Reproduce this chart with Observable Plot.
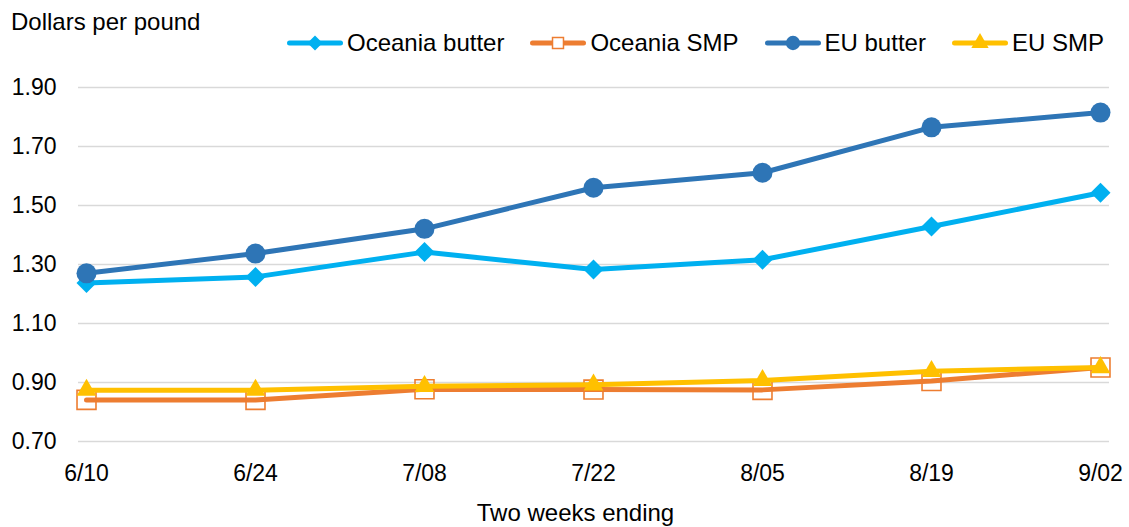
<!DOCTYPE html>
<html>
<head>
<meta charset="utf-8">
<script src="https://cdn.jsdelivr.net/npm/d3@7"></script>
<script src="https://cdn.jsdelivr.net/npm/@observablehq/plot@0.6"></script>
<style>
  html, body { margin: 0; padding: 0; background: #fff; }
  body { width: 1129px; height: 527px; overflow: hidden; font-family: "Liberation Sans", Arial, sans-serif; color: #000; }
  #header { position: relative; height: 62px; font-size: 24px; line-height: 24px; }
  #title { position: absolute; left: 11px; top: 10px; white-space: nowrap; }
  #legend { position: absolute; left: 287px; top: 31px; width: 842px; display: flex; flex-wrap: nowrap; align-items: center; white-space: nowrap; }
  .item { display: flex; flex: none; align-items: center; margin-right: 26px; white-space: nowrap; }
  .item svg { margin-right: 4px; flex: none; }
  .item span { white-space: nowrap; }
  #caption { margin-top: 9px; font-size: 24px; line-height: 24px; text-align: center; padding-left: 22px; white-space: nowrap; }
  #chart svg { display: block; }
</style>
</head>
<body>
<div id="header"><div id="title">Dollars per pound</div><div id="legend"></div></div>
<div id="chart"></div>
<div id="caption">Two weeks ending</div>
<script>
const dates = ["6/10", "6/24", "7/08", "7/22", "8/05", "8/19", "9/02"];
const oceaniaButter = [1.237, 1.258, 1.342, 1.283, 1.316, 1.429, 1.543];
const oceaniaSMP = [0.841, 0.841, 0.877, 0.876, 0.875, 0.905, 0.951];
const euButter = [1.270, 1.337, 1.421, 1.560, 1.611, 1.765, 1.815];
const euSMP = [0.874, 0.874, 0.887, 0.892, 0.907, 0.938, 0.951];
const yTicks = [0.70, 0.90, 1.10, 1.30, 1.50, 1.70, 1.90];
const seriesNames = ["Oceania butter", "Oceania SMP", "EU butter", "EU SMP"];
const seriesColors = ["#00B0F0", "#ED7D31", "#2E75B6", "#FFC000"];

const seriesValues = [oceaniaButter, oceaniaSMP, euButter, euSMP];
const seriesStyle = [
  {symbol: "diamond2", r: 9, fill: true},
  {symbol: "square", r: 10.7, fill: false},
  {symbol: "circle", r: 10, fill: true},
  {symbol: "triangle", r: 7.3, fill: true}
];
const table = (i) => dates.map((d, j) => ({date: d, value: seriesValues[i][j], series: seriesNames[i]}));

const marks = [
  Plot.ruleY(yTicks, {stroke: "#d9d9d9", strokeWidth: 1.5})
];
seriesNames.forEach((name, i) => {
  const data = table(i);
  const st = seriesStyle[i];
  marks.push(Plot.line(data, {x: "date", y: "value", stroke: seriesColors[i], strokeWidth: 5, strokeLinejoin: "round", strokeLinecap: "round"}));
  marks.push(Plot.dot(data, {
    x: "date", y: "value", symbol: () => st.symbol, r: st.r,
    fill: st.fill ? seriesColors[i] : "none",
    stroke: st.fill ? "none" : seriesColors[i],
    strokeWidth: st.fill ? 0 : 1.6
  }));
});

const chart = Plot.plot({
  width: 1129,
  height: 430,
  marginLeft: 78,
  marginRight: 20,
  marginTop: 25,
  marginBottom: 51,
  insetLeft: 6,
  insetRight: 7,
  style: {fontFamily: "Liberation Sans, Arial, sans-serif", fontSize: "23px", color: "#000", background: "#fff"},
  x: {type: "point", domain: dates, padding: 0, label: null, tickSize: 0, tickPadding: 23},
  y: {domain: [0.70, 1.90], ticks: yTicks, tickFormat: d3.format(".2f"), label: null, tickSize: 0, tickPadding: 22},
  marks
});
document.getElementById("chart").appendChild(chart);

// legend
const legend = document.getElementById("legend");
const ns = "http://www.w3.org/2000/svg";
seriesNames.forEach((name, i) => {
  const item = document.createElement("div");
  item.className = "item";
  const sw = document.createElementNS(ns, "svg");
  sw.setAttribute("width", 56); sw.setAttribute("height", 24);
  const line = document.createElementNS(ns, "line");
  line.setAttribute("x1", 2.5); line.setAttribute("x2", 53.5);
  line.setAttribute("y1", 12); line.setAttribute("y2", 12);
  line.setAttribute("stroke", seriesColors[i]); line.setAttribute("stroke-width", 5);
  line.setAttribute("stroke-linecap", "round");
  sw.appendChild(line);
  const st = seriesStyle[i];
  const sym = {diamond2: d3.symbolDiamond2, square: d3.symbolSquare, circle: d3.symbolCircle, triangle: d3.symbolTriangle}[st.symbol];
  const sizes = {diamond2: 145, square: 120, circle: 160, triangle: 130};
  const p = document.createElementNS(ns, "path");
  p.setAttribute("d", d3.symbol(sym, sizes[st.symbol])());
  p.setAttribute("transform", "translate(28,12)");
  if (st.fill) { p.setAttribute("fill", seriesColors[i]); }
  else { p.setAttribute("fill", "#fff"); p.setAttribute("stroke", seriesColors[i]); p.setAttribute("stroke-width", 1.5); }
  sw.appendChild(p);
  item.appendChild(sw);
  const t = document.createElement("span");
  t.textContent = name;
  item.appendChild(t);
  legend.appendChild(item);
});
</script>
</body>
</html>
